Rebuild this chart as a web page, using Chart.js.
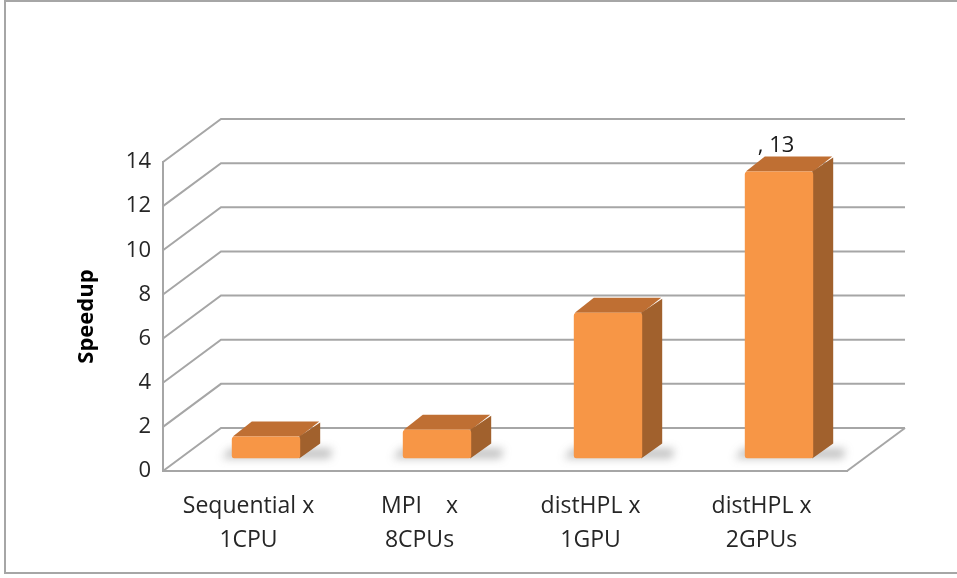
<!DOCTYPE html>
<html>
<head>
<meta charset="utf-8">
<script src="https://cdn.jsdelivr.net/npm/chart.js@4"></script>
<style>
  html, body { margin: 0; padding: 0; background: #ffffff; }
  #wrap { position: relative; width: 957px; height: 578px; }
  #frame { position: absolute; left: 4px; top: 0px; width: 1000px; height: 574px;
           border-left: 2px solid #a6a6a6; border-top: 2px solid #a6a6a6; border-bottom: 2px solid #a6a6a6; box-sizing: border-box; }
  canvas { position: absolute; left: 0; top: 0; }
</style>
</head>
<body>
<div id="wrap">
  <div id="frame"></div>
  <canvas id="chart" width="957" height="578"></canvas>
</div>
<script>
// Speedup of each configuration
const categories = [
  ['Sequential x', '1CPU'],
  ['MPI    x', '8CPUs'],
  ['distHPL x', '1GPU'],
  ['distHPL x', '2GPUs']
];
const speedup = [1, 1.3, 6.6, 13];
const showValue = [false, false, false, true];
const yTicks = [0, 2, 4, 6, 8, 10, 12, 14];

// 3D look: depth of the walls and of the bars (pixels)
const WALL_DX = 58, WALL_DY = -43;
const BAR_OX = 17.5, BAR_OY = -12.5;  // bars stand part-way back on the floor
const BAR_DX = 20, BAR_DY = -15;      // bar thickness
const LINE = '#a6a6a6';
const FONT = '"Open Sans", Lato, sans-serif';

const threeD = {
  id: 'threeD',
  beforeDatasetsDraw(chart) {
    const { ctx, chartArea: a, scales: { y } } = chart;
    ctx.save();
    ctx.strokeStyle = LINE;
    ctx.lineWidth = 2;
    // back wall lines and left wall diagonals
    yTicks.forEach(v => {
      const py = y.getPixelForValue(v);
      ctx.beginPath();
      ctx.moveTo(a.left, py);
      ctx.lineTo(a.left + WALL_DX, py + WALL_DY);
      ctx.lineTo(a.right + WALL_DX, py + WALL_DY);
      ctx.stroke();
    });
    // right edge of the floor
    const py0 = y.getPixelForValue(0);
    ctx.beginPath();
    ctx.moveTo(a.right, py0);
    ctx.lineTo(a.right + WALL_DX, py0 + WALL_DY);
    ctx.stroke();

    const meta = chart.getDatasetMeta(0);
    meta.data.forEach(bar => {
      const { x, y: top, base, width } = bar.getProps(['x', 'y', 'base', 'width']);
      const l = x - width / 2 + BAR_OX, r = x + width / 2 + BAR_OX;
      const t = top + BAR_OY, b = base + BAR_OY;
      // soft floor shadow
      ctx.save();
      ctx.filter = 'blur(4px)';
      ctx.fillStyle = 'rgba(80,80,80,0.35)';
      ctx.beginPath();
      ctx.moveTo(l - 10, b);
      ctx.lineTo(r + BAR_DX + 10, b);
      ctx.lineTo(r + BAR_DX + 12, b + BAR_DY + 5);
      ctx.lineTo(l - 2, b + BAR_DY + 5);
      ctx.closePath();
      ctx.fill();
      ctx.restore();
      // top face
      ctx.fillStyle = '#bf6f33';
      ctx.beginPath();
      ctx.moveTo(l + 1, t);
      ctx.lineTo(l + BAR_DX, t + BAR_DY);
      ctx.lineTo(r + BAR_DX - 1, t + BAR_DY);
      ctx.lineTo(r, t);
      ctx.closePath();
      ctx.fill();
      // side face
      ctx.fillStyle = '#a1612d';
      ctx.beginPath();
      ctx.moveTo(r - 1, t);
      ctx.lineTo(r + BAR_DX, t + BAR_DY + 1);
      ctx.lineTo(r + BAR_DX, b + BAR_DY);
      ctx.lineTo(r - 1, b);
      ctx.closePath();
      ctx.fill();
    });
    ctx.restore();
    // front faces are drawn by the library, moved back onto the floor
    ctx.save();
    ctx.translate(BAR_OX, BAR_OY);
  },
  afterDatasetsDraw(chart) {
    const { ctx } = chart;
    ctx.restore();
    const meta = chart.getDatasetMeta(0);
    ctx.save();
    ctx.font = '22px ' + FONT;
    ctx.fillStyle = '#1a1a1a';
    ctx.textAlign = 'center';
    ctx.textBaseline = 'alphabetic';
    meta.data.forEach((bar, i) => {
      if (!showValue[i]) return;
      const { x, y: top } = bar.getProps(['x', 'y']);
      ctx.fillText(', ' + speedup[i], x + BAR_OX - 3, top + BAR_OY - 20);
    });
    ctx.restore();
  }
};

new Chart(document.getElementById('chart'), {
  type: 'bar',
  data: {
    labels: categories,
    datasets: [{
      data: speedup,
      backgroundColor: '#f79646',
      borderRadius: 3,
      borderSkipped: false,
      categoryPercentage: 1,
      barPercentage: 0.4
    }]
  },
  options: {
    responsive: false,
    animation: false,
    events: [],
    layout: { padding: { top: 162, right: 110, bottom: 0, left: 0 } },
    plugins: { legend: { display: false }, tooltip: { enabled: false } },
    scales: {
      x: {
        afterFit(s) { s.height = 107; },
        grid: { display: false, drawTicks: false },
        border: { display: true, color: LINE, width: 2 },
        ticks: {
          color: '#262626', padding: 18, maxRotation: 0, autoSkip: false,
          font: { family: FONT, size: 23, lineHeight: 1.48 }
        }
      },
      y: {
        min: 0, max: 14,
        afterFit(s) { s.width = 163; },
        afterBuildTicks(s) { s.ticks = yTicks.map(v => ({ value: v })); },
        grid: { display: false, drawTicks: false },
        border: { display: true, color: LINE, width: 2 },
        ticks: { color: '#262626', padding: 12, font: { family: FONT, size: 22 } },
        title: {
          display: true, text: 'Speedup', color: '#000000',
          font: { family: FONT, size: 22, weight: 'bold' },
          padding: { top: 74, bottom: 0 }
        }
      }
    }
  },
  plugins: [threeD]
});
</script>
</body>
</html>
